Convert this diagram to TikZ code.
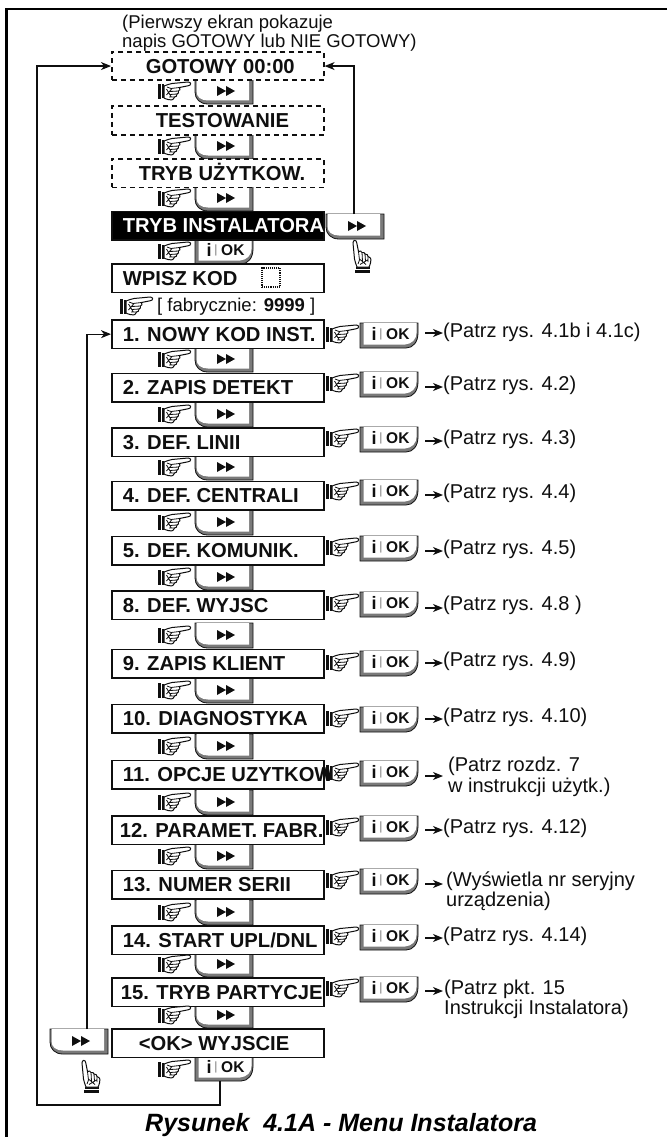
\documentclass[tikz,border=0pt]{standalone}
\usepackage{fontspec}
\setmainfont{Liberation Sans}
\usetikzlibrary{arrows.meta,calc}
\definecolor{ink}{gray}{0.06}
\definecolor{btngray}{gray}{0.48}
\tikzset{
  menubox/.style={draw=ink,fill=white,line width=1.8pt,inner sep=0pt,minimum height=28.5pt,minimum width=212pt,anchor=north west,text height=14.4pt,text depth=0pt,font=\fontsize{20.2}{20}\selectfont\bfseries,text=ink},
  dashbox/.style={menubox,line width=1.6pt,dash pattern=on 5pt off 4pt},
  blackbox/.style={menubox,fill=black,text=white},
  btnanchor/.style={inner sep=0pt,minimum width=58pt,minimum height=25pt},
  conn/.style={draw=ink,line width=1.2pt},
  tipconn/.style={conn,-{Stealth[length=10pt,width=8pt,inset=3pt]}},
  reftext/.style={inner sep=0pt,anchor=west,align=left,text=ink,font=\fontsize{20}{20.5}\selectfont},
  handline/.style={draw=ink,fill=white,line width=1pt},
  handthin/.style={draw=ink,line width=.8pt}
}
\newcommand\HandShape{%
  \fill[ink] (0,2) rectangle (3.2,17);
  \fill[ink] (4,2.5) rectangle (6,16.5);
  \draw[handline] (6,4) .. controls (9,3) and (11,2) .. (14,1.5) -- (30,0) .. controls (33.5,0) and (33.5,3.6) .. (30,3.8) -- (21.5,5.5) .. controls (22.5,7) and (22,8.5) .. (20.5,9) .. controls (21,10.5) and (20,12) .. (19,12) .. controls (19,14) and (18,15) .. (16.5,15) .. controls (15.5,18.5) and (12,18.5) .. (10,17.5) .. controls (8,17) and (7,16.5) .. (6,16) -- cycle;
  \draw[handthin] (9,5) -- (13,6.5) -- (21.5,5.5) (12,9.5) -- (20.5,9) (12,12.5) -- (19,12) (11,15) -- (16.5,15) (8.5,7) -- (13,14.5) (8.5,13) -- (14,6.5);
}
\newcommand\HandRight[2]{\begin{scope}[shift={(#1,#2)}]\HandShape\end{scope}}
\newcommand\HandUp[2]{\begin{scope}[shift={(#1,#2)},rotate=90]\HandShape\end{scope}}
% name, x, top
\newcommand\FwdBtn[3]{\begin{scope}[shift={(#2,#3)}]
  \fill[btngray,draw=ink,line width=.8pt] (0,0) -- (0,13) .. controls (0,20) and (5,25) .. (13,25) -- (58,25) -- (58,0) -- cycle;
  \fill[white] (1.5,0) -- (1.5,12) .. controls (1.5,18) and (6,21.5) .. (13,21.5) -- (54,21.5) -- (54,0) -- cycle;
  \fill[ink] (22,7) -- (31,12) -- (22,17) -- cycle (31,7) -- (40,12) -- (31,17) -- cycle;
  \node[btnanchor] (#1) at (29,12.5) {};
\end{scope}}
\newcommand\OkBtn[3]{\begin{scope}[shift={(#2,#3)}]
  \fill[btngray,draw=ink,line width=.8pt] (0,0) -- (0,25) -- (46,25) .. controls (53,25) and (58,19) .. (58,10) -- (58,0) -- cycle;
  \fill[white] (3.5,0) -- (3.5,21.5) -- (45,21.5) .. controls (52,21) and (56.5,16) .. (56.5,10) -- (56.5,0) -- cycle;
  \node[btnanchor,text=ink] (#1) at (29,12.5) {};
  \node[inner sep=0pt,text=ink,font=\fontsize{18}{18}\selectfont\bfseries] (#1i) at (14,11) {i};
  \node[inner sep=0pt,text=btngray,font=\fontsize{12}{12}\selectfont] (#1b) at (21,11) {|};
  \node[inner sep=0pt,anchor=west,text=ink,font=\fontsize{15.5}{15}\selectfont\bfseries] (#1k) at (26,11.5) {OK};
\end{scope}}
% style, name, top, offset, text
\newcommand\MB[5]{\node[#1] (#2) at (111,#3) {\makebox[212pt][l]{\hspace{#4pt}#5}};}
% name, btn top, arrow y, text x, text centre y, text
\newcommand\RefRow[6]{%
  \HandRight{326}{#2+2}
  \OkBtn{#1}{360}{#2}
  \node[reftext] (#1t) at (#4,#5) {#6};
  \coordinate (#1a) at (425,#3);
  \draw[tipconn,shorten >=#4pt-443pt] (#1a) -- (#1a -| #1t.west);
}
\begin{document}
\begin{tikzpicture}[x=1pt,y=-1pt]
\useasboundingbox (0,0) rectangle (667,1137);
\fill[white] (0,0) rectangle (667,1137);
\draw[black,line width=2.4pt] (667,9) -- (6.5,9) -- (6.5,1137);

\node[reftext,font=\fontsize{18.5}{19.5}\selectfont] (intro) at (122,33) {(Pierwszy ekran pokazuje\\napis GOTOWY lub NIE GOTOWY)};

% vertical step buttons
\FwdBtn{b1}{195}{79}
\FwdBtn{b2}{195}{134}
\FwdBtn{b3}{195}{186}
\OkBtn{b4}{195}{239}
\FwdBtn{f1}{195}{347}
\FwdBtn{f2}{195}{402}
\FwdBtn{f3}{195}{455}
\FwdBtn{f4}{195}{510}
\FwdBtn{f5}{195}{565}
\FwdBtn{f6}{195}{623}
\FwdBtn{f7}{195}{678}
\FwdBtn{f8}{195}{734}
\FwdBtn{f9}{195}{790}
\FwdBtn{f10}{195}{844}
\FwdBtn{f11}{195}{900}
\FwdBtn{f12}{195}{952}
\FwdBtn{f13}{195}{1003}
\OkBtn{oklast}{195}{1056}
\FwdBtn{rf}{326}{214}
\FwdBtn{lf}{50}{1029}

% screens
\MB{dashbox}{gotowy}{51}{34}{GOTOWY 00:00}
\MB{dashbox}{test}{105.5}{44}{TESTOWANIE}
\MB{dashbox}{uzyt}{158}{27}{TRYB UŻYTKOW.}
\MB{blackbox}{inst}{210.5}{11}{TRYB INSTALATORA}
\MB{menubox}{kod}{263}{11}{WPISZ KOD}
\MB{menubox}{m1}{319}{11}{1. NOWY KOD INST.}
\MB{menubox}{m2}{372.5}{11}{2. ZAPIS DETEKT}
\MB{menubox}{m3}{427}{11}{3. DEF. LINII}
\MB{menubox}{m4}{480.5}{11}{4. DEF. CENTRALI}
\MB{menubox}{m5}{535.5}{11}{5. DEF. KOMUNIK.}
\MB{menubox}{m8}{590}{11}{8. DEF. WYJSC}
\MB{menubox}{m9}{648.5}{11}{9. ZAPIS KLIENT}
\MB{menubox}{m10}{703.5}{11}{10. DIAGNOSTYKA}
\MB{menubox}{m11}{759.5}{11}{11. OPCJE UZYTKOW}
\MB{menubox}{m12}{815}{8}{12. PARAMET. FABR.}
\MB{menubox}{m13}{869.5}{11}{13. NUMER SERII}
\MB{menubox}{m14}{925}{11}{14. START UPL/DNL}
\MB{menubox}{m15}{977}{9}{15. TRYB PARTYCJE}
\MB{menubox}{wyj}{1028}{27}{<OK> WYJSCIE}
\node[draw=ink,densely dotted,line width=1.1pt,minimum width=18pt,minimum height=19pt,inner sep=0pt] (pin) at (271,277.5) {};

% factory code
\node[inner sep=0pt,anchor=west,text=ink,font=\fontsize{18.5}{19}\selectfont] (fab) at (157,307) {[ fabrycznie: \textbf{9999} ]};

% reference rows
\RefRow{r1}{323}{333}{443}{332}{(Patrz rys. 4.1b i 4.1c)}
\RefRow{r2}{372}{387}{443}{385}{(Patrz rys. 4.2)}
\RefRow{r3}{427}{441}{443}{439}{(Patrz rys. 4.3)}
\RefRow{r4}{480}{495}{443}{493}{(Patrz rys. 4.4)}
\RefRow{r5}{536}{551}{443}{549}{(Patrz rys. 4.5)}
\RefRow{r8}{592}{608}{443}{605}{(Patrz rys. 4.8 )}
\RefRow{r9}{651}{663}{443}{661}{(Patrz rys. 4.9)}
\RefRow{r10}{707}{719}{443}{717}{(Patrz rys. 4.10)}
\RefRow{r11}{761}{776}{448}{777}{(Patrz rozdz. 7\\w instrukcji użytk.)}
\RefRow{r12}{816}{830}{443}{828}{(Patrz rys. 4.12)}
\RefRow{r13}{869}{884}{446}{891}{(Wyświetla nr seryjny\\urządzenia)}
\RefRow{r14}{925}{938}{443}{936}{(Patrz rys. 4.14)}
\RefRow{r15}{977}{991}{444}{999.5}{(Patrz pkt. 15\\Instrukcji Instalatora)}

% loop connectors
\coordinate (c1) at (220,1105);
\coordinate (c2) at (37,1105);
\coordinate (c3) at (87,1029);
\draw[tipconn] (c1 |- oklast.south) -- (c1) -- (c2) |- (gotowy.west);
\draw[tipconn] (c3) |- (m1.west);
\coordinate (c4) at (354,214);
\draw[tipconn] (c4) |- (gotowy.east);

% hands
\HandRight{158}{82}
\HandRight{158}{137}
\HandRight{158}{189}
\HandRight{158}{242}
\HandRight{120}{297}
\foreach \yy in {350,405,458,513,568,626,681,737,793,847,903,955,1006,1060}{\HandRight{158}{\yy}}
\HandUp{353}{273}
\HandUp{82}{1093}

\node[inner sep=0pt,anchor=base west,text=black,font=\fontsize{25}{25}\selectfont\bfseries\itshape] (cap) at (145,1131) {Rysunek\ \ 4.1A - Menu Instalatora};
\end{tikzpicture}
\end{document}
